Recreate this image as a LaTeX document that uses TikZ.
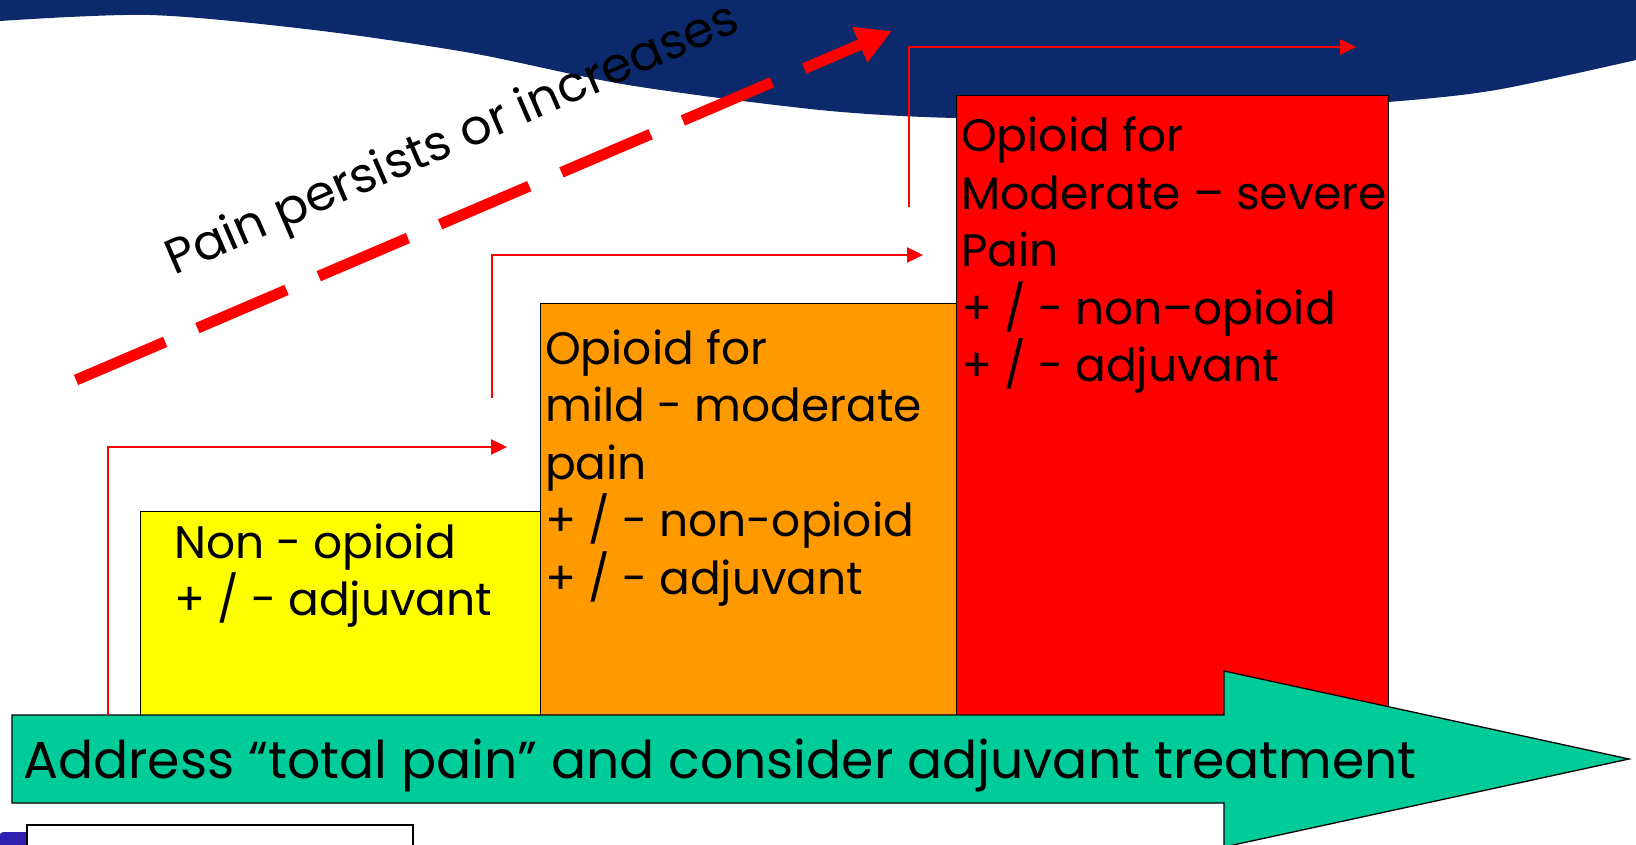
\documentclass[tikz,border=0pt]{standalone}
\usepackage{fontspec}
\setmainfont{Poppins}
\usetikzlibrary{arrows.meta}
\definecolor{navy}{RGB}{11,41,107}
\definecolor{stepyellow}{RGB}{255,255,0}
\definecolor{steporange}{RGB}{255,153,0}
\definecolor{stepred}{RGB}{255,0,0}
\definecolor{bargreen}{RGB}{0,204,153}
\definecolor{logoblue}{RGB}{48,32,176}
\tikzset{
  stepbox/.style={draw=black, line width=1.2pt},
  steptext/.style={anchor=base west, inner sep=0pt, font=\fontsize{45.5}{57.5}\selectfont},
  thinarrow/.style={draw=red, line width=2.4pt, -{Triangle[length=16pt,width=15pt]}},
  bigdash/.style={draw=red, line width=11pt, dash pattern=on 97pt off 35pt, -{Triangle[length=35pt,width=36pt]}}
}
\begin{document}
\begin{tikzpicture}[x=1pt,y=-1pt]
\useasboundingbox (0,0) rectangle (1636,845);
\fill[white] (0,0) rectangle (1636,845);
% wave background
\fill[navy] (0,0) -- plot[smooth] coordinates {(0,21) (150,15) (314,30) (471,53) (628,85) (820,110) (956,118) (1100,116) (1250,110) (1388,102) (1496,90) (1636,60)} -- (1636,0) -- cycle;
% step boxes
\node[stepbox, fill=stepyellow, anchor=north west, minimum width=400pt, minimum height=204pt, inner sep=0pt] (s1) at (140,511) {};
\node[stepbox, fill=steporange, anchor=north west, minimum width=416pt, minimum height=412pt, inner sep=0pt] (s2) at (540,303) {};
\node[stepbox, fill=stepred, anchor=north west, minimum width=432pt, minimum height=625pt, inner sep=0pt] (s3) at (956,95) {};
% bottom bar arrow
\draw[fill=bargreen, line width=1.3pt] (12,715) -- (1224,715) -- (1224,671) -- (1629,759) -- (1224,847) -- (1224,803) -- (12,803) -- cycle;
\node[anchor=base west, inner sep=0pt, font=\fontsize{52}{60}\selectfont] (bartext) at (23,778) {Address “total pain” and consider adjuvant treatment};
% bottom-left remnants
\fill[logoblue] (0,845) -- (0,836) .. controls (0,833) .. (4,832) -- (27,832) -- (27,845) -- cycle;
\draw[fill=white, line width=1.2pt] (27,850) -- (27,825) -- (413,825) -- (413,850);
% step texts
\node[steptext] (t1) at (174,558) {\parbox[t]{360pt}{Non - opioid\\+ / - adjuvant}};
\node[steptext] (t2) at (545,364) {\parbox[t]{400pt}{Opioid for\\mild - moderate\\pain\\+ / - non-opioid\\+ / - adjuvant}};
\node[steptext] (t3) at (961,152) {\parbox[t]{440pt}{Opioid for\\Moderate – severe\\Pain\\+ / - non–opioid\\+ / - adjuvant}};
% step arrows
\coordinate (a1s) at (108,715);
\coordinate (a1c) at (108,447);
\coordinate (a1e) at (507,447);
\coordinate (a2s) at (492,398);
\coordinate (a2c) at (492,255);
\coordinate (a2e) at (923,255);
\coordinate (a3s) at (909,207);
\coordinate (a3c) at (909,47);
\coordinate (a3e) at (1356,47);
\draw[thinarrow] (a1s) -- (a1c) -- (a1e);
\draw[thinarrow] (a2s) -- (a2c) -- (a2e);
\draw[thinarrow] (a3s) -- (a3c) -- (a3e);
% dashed progression arrow
\coordinate (ds) at (76,380);
\coordinate (de) at (892,31);
\draw[bigdash] (ds) -- (de);
\node[anchor=base west, inner sep=0pt, rotate=23.4, font=\fontsize{49}{55}\selectfont] (persist) at (174,276) {Pain persists or increases};
\end{tikzpicture}
\end{document}
